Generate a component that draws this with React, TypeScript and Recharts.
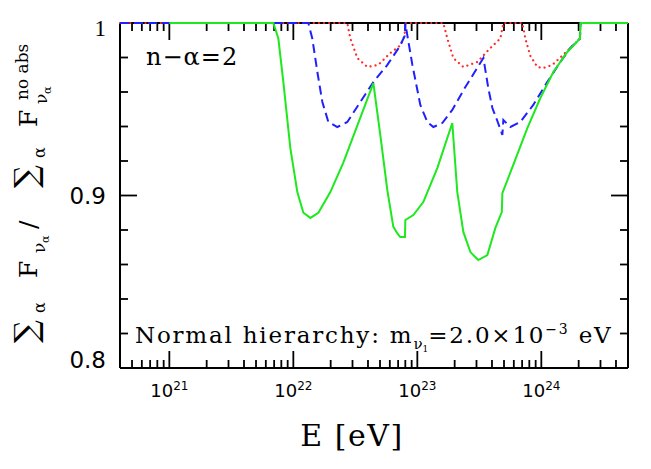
import React from "react";
import { LineChart, Line, XAxis, YAxis, ReferenceLine } from "recharts";

// [E in eV, summed flux ratio]
const redPts: [number, number][] = [
  [4e20, 1], [2.725e22, 1], [2.884e22, 0.991], [3.28e22, 0.9797], [3.95e22, 0.9745],
  [4.84e22, 0.9757], [6.05e22, 0.9826], [7.29e22, 0.987], [7.9e22, 0.9925], [8.0e22, 1],
  [1.622e23, 1], [1.746e23, 0.991], [1.95e23, 0.9797], [2.35e23, 0.9745], [3.05e23, 0.9774],
  [3.88e23, 0.9855], [4.67e23, 0.991], [4.94e23, 1], [7.03e23, 1], [7.43e23, 0.991],
  [8.15e23, 0.981], [9.29e23, 0.9745], [1.038e24, 0.9739], [1.227e24, 0.9757],
  [1.422e24, 0.98], [1.714e24, 0.9855], [2.05e24, 0.991], [2.07e24, 1], [5e24, 1],
];

const bluePts: [number, number][] = [
  [4e20, 1], [1.321e22, 1], [1.422e22, 0.991], [1.562e22, 0.9716], [1.714e22, 0.9542],
  [1.916e22, 0.9426], [2.264e22, 0.9397], [2.725e22, 0.9426], [3.467e22, 0.9542],
  [4.42e22, 0.9658], [5.73e22, 0.9757], [7.29e22, 0.987], [7.9e22, 0.9925], [8.0e22, 1],
  [8.3e22, 0.993], [9.12e22, 0.9757], [1.057e23, 0.9525], [1.205e23, 0.9426],
  [1.346e23, 0.9397], [1.591e23, 0.942], [1.914e23, 0.9496], [2.44e23, 0.9629],
  [3.41e23, 0.9797], [3.74e23, 0.962], [4.03e23, 0.9507], [4.42e23, 0.9432],
  [4.85e23, 0.9351], [4.94e23, 0.9438], [5.63e23, 0.9397], [6.77e23, 0.9426],
  [8.61e23, 0.9525], [1.117e24, 0.9658], [1.422e24, 0.9774], [1.714e24, 0.9855],
  [2.05e24, 0.991], [2.07e24, 1], [5e24, 1],
];

const greenPts: [number, number][] = [
  [1e21, 1], [6.9e21, 1], [7.57e21, 0.991], [8.3e21, 0.966], [9.46e21, 0.9275],
  [1.077e22, 0.902], [1.205e22, 0.89], [1.372e22, 0.887], [1.591e22, 0.89],
  [1.988e22, 0.902], [2.53e22, 0.919], [4.42e22, 0.9652], [5.03e22, 0.935],
  [5.73e22, 0.903], [6.4e22, 0.882], [6.9e22, 0.878], [7.29e22, 0.8759],
  [7.95e22, 0.8759], [8.0e22, 0.8858], [9.29e22, 0.8887], [1.117e23, 0.8962],
  [1.449e23, 0.9159], [1.914e23, 0.942], [2.1e23, 0.902], [2.35e23, 0.8789],
  [2.68e23, 0.8672], [3.1e23, 0.8626], [3.67e23, 0.8655], [4.26e23, 0.8812],
  [4.8e23, 0.8904], [4.85e23, 0.9014], [5.94e23, 0.9177], [7.71e23, 0.9391],
  [9.82e23, 0.9565], [1.25e24, 0.9716], [1.62e24, 0.9832], [2.05e24, 0.991],
  [2.07e24, 1], [5e24, 1],
];

const xDomain = [4e20, 5e24];
const xMajorTicks = [1e21, 1e22, 1e23, 1e24];
const xMinorTicks = [
  5e20, 6e20, 7e20, 8e20, 9e20,
  2e21, 3e21, 4e21, 5e21, 6e21, 7e21, 8e21, 9e21,
  2e22, 3e22, 4e22, 5e22, 6e22, 7e22, 8e22, 9e22,
  2e23, 3e23, 4e23, 5e23, 6e23, 7e23, 8e23, 9e23,
  2e24, 3e24, 4e24,
];
const yDomain = [0.8, 1];
const yMajorTicks = [0.8, 0.9, 1];
const yMinorTicks = [0.82, 0.84, 0.86, 0.88, 0.92, 0.94, 0.96, 0.98];

const toRows = (pts: [number, number][]) => pts.map(([e, r]) => ({ e, r }));

const INK = "#000";
const MAJOR = 17;
const MINOR = 8;
const frame = { stroke: INK, strokeWidth: 2 };

function XLabel(props: any) {
  const { x, y, payload } = props;
  const exp = Math.round(Math.log10(payload.value));
  return (
    <text x={x} y={y + 29} textAnchor="middle" fontFamily="DejaVu Sans" fontSize={18} fill={INK}>
      10<tspan fontSize={12} dy={-7}>{exp}</tspan>
    </text>
  );
}

function YLabel(props: any) {
  const { x, y, payload } = props;
  const v = payload.value;
  const shift = v === 1 ? 5 : v < 0.81 ? -8 : 0;
  return (
    <text
      x={x - 14}
      y={y + shift + 8}
      textAnchor="end"
      fontFamily={v === 1 ? "Liberation Serif" : "DejaVu Sans"}
      fontSize={23}
      fill={INK}
    >
      {v === 1 ? "1" : v.toFixed(1)}
    </text>
  );
}

// inward tick marks at both ends of a full-height / full-width reference line
const vTicks = (len: number) => (p: any) => {
  const top = Math.min(p.y1, p.y2);
  const bot = Math.max(p.y1, p.y2);
  return (
    <g stroke={INK} strokeWidth={1.8}>
      <line x1={p.x1} x2={p.x1} y1={bot} y2={bot - len} />
      <line x1={p.x1} x2={p.x1} y1={top} y2={top + len} />
    </g>
  );
};

const hTicks = (len: number) => (p: any) => {
  const left = Math.min(p.x1, p.x2);
  const right = Math.max(p.x1, p.x2);
  return (
    <g stroke={INK} strokeWidth={1.8}>
      <line x1={left} x2={left + len} y1={p.y1} y2={p.y1} />
      <line x1={right} x2={right - len} y1={p.y1} y2={p.y1} />
    </g>
  );
};

const series = [
  { pts: redPts, color: "#ff2b2b", width: 2.2, dash: "0.1 5", z: 600 },
  { pts: bluePts, color: "#2020ff", width: 2, dash: "9 5", z: 610 },
  { pts: greenPts, color: "#1ee81e", width: 2, dash: undefined, z: 620 },
];

export default function App() {
  return (
    <div style={{ position: "absolute", left: 0, top: 0, width: 651, height: 469, background: "#fff" }}>
      <LineChart width={651} height={469} margin={{ top: 0, right: 0, bottom: 0, left: 0 }}>
        <XAxis
          xAxisId="bottom"
          dataKey="e"
          type="number"
          scale="log"
          domain={xDomain}
          ticks={xMajorTicks}
          interval={0}
          height={101}
          tickSize={0}
          tickMargin={0}
          tickLine={false}
          axisLine={frame}
          tick={(p: any) => <XLabel {...p} />}
        />
        <XAxis
          xAxisId="top"
          orientation="top"
          type="number"
          scale="log"
          domain={xDomain}
          height={23}
          tick={false}
          tickLine={false}
          axisLine={frame}
        />
        <YAxis
          yAxisId="left"
          type="number"
          domain={yDomain}
          ticks={yMajorTicks}
          interval={0}
          width={120}
          tickSize={0}
          tickMargin={0}
          tickLine={false}
          axisLine={frame}
          tick={(p: any) => <YLabel {...p} />}
        />
        <YAxis
          yAxisId="right"
          orientation="right"
          type="number"
          domain={yDomain}
          width={23}
          tick={false}
          tickLine={false}
          axisLine={frame}
        />
        {xMajorTicks.map((v) => (
          <ReferenceLine key={`xM${v}`} xAxisId="bottom" yAxisId="left" x={v} shape={vTicks(MAJOR)} />
        ))}
        {xMinorTicks.map((v) => (
          <ReferenceLine key={`xm${v}`} xAxisId="bottom" yAxisId="left" x={v} shape={vTicks(MINOR)} />
        ))}
        {yMajorTicks.map((v) => (
          <ReferenceLine key={`yM${v}`} xAxisId="bottom" yAxisId="left" y={v} shape={hTicks(MAJOR)} />
        ))}
        {yMinorTicks.map((v) => (
          <ReferenceLine key={`ym${v}`} xAxisId="bottom" yAxisId="left" y={v} shape={hTicks(MINOR)} />
        ))}
        {series.map((s, i) => (
          <Line
            key={i}
            xAxisId="bottom"
            yAxisId="left"
            data={toRows(s.pts)}
            dataKey="r"
            type="linear"
            stroke={s.color}
            strokeWidth={s.width}
            strokeDasharray={s.dash}
            strokeLinecap={s.dash === "0.1 5" ? "round" : "butt"}
            dot={false}
            isAnimationActive={false}
            zIndex={s.z}
          />
        ))}
      </LineChart>
      <svg
        width={651}
        height={469}
        style={{ position: "absolute", left: 0, top: 0, pointerEvents: "none" }}
      >
        <text x={146} y={65} fontFamily="DejaVu Serif" fontSize={24} letterSpacing={1} fill={INK}>
          n−α=2
        </text>
        <text x={135} y={343} fontFamily="DejaVu Serif" fontSize={23} letterSpacing={1.8} fill={INK}>
          Normal hierarchy: m
          <tspan fontSize={15} dy={6} letterSpacing={0}>ν</tspan>
          <tspan fontSize={9} dy={3} letterSpacing={0}>1</tspan>
          <tspan dy={-9}>=2.0×10</tspan>
          <tspan fontSize={14} dy={-9}>−3</tspan>
          <tspan dy={9}> eV</tspan>
        </text>
        <text x={352} y={446} textAnchor="middle" fontFamily="DejaVu Serif" fontSize={30} letterSpacing={1.5} fill={INK}>
          E [eV]
        </text>
        <g transform="rotate(-90)" fontFamily="DejaVu Serif" fill={INK}>
          <text x={-343} y={37} fontSize={32}>∑</text>
          <text x={-313} y={45} fontSize={16}>α</text>
          <text x={-278} y={37} fontSize={25}>F</text>
          <text x={-253} y={45} fontSize={17}>ν</text>
          <text x={-243} y={49} fontSize={11}>α</text>
          <text x={-229} y={37} fontSize={25}>/</text>
          <text x={-188} y={37} fontSize={32}>∑</text>
          <text x={-158} y={45} fontSize={16}>α</text>
          <text x={-127} y={37} fontSize={25}>F</text>
          <text x={-104} y={47} fontSize={17}>ν</text>
          <text x={-94} y={51} fontSize={11}>α</text>
          <text x={-100} y={28} fontSize={17}>no abs</text>
        </g>
      </svg>
    </div>
  );
}
